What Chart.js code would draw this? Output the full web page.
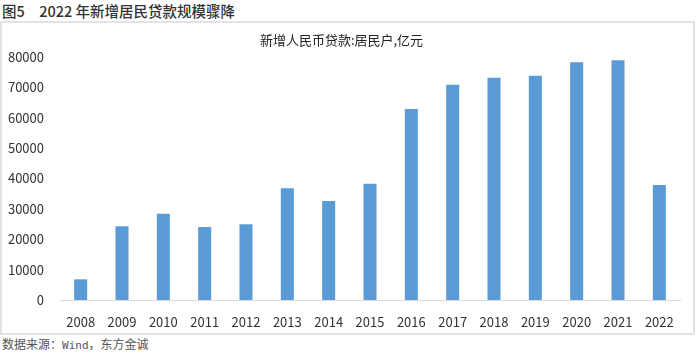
<!DOCTYPE html>
<html><head><meta charset="utf-8">
<script src="https://cdn.jsdelivr.net/npm/chart.js@4"></script>
<style>
html,body{margin:0;padding:0;background:#fff;width:700px;height:355px;overflow:hidden;font-family:"Noto Sans CJK SC",sans-serif;}
#title{position:absolute;left:2px;top:1px;font-size:14.5px;font-weight:500;color:#333;white-space:pre;line-height:20px;}
#frame{position:absolute;left:0px;top:21px;width:691px;height:310px;border:2px solid #e3e3e3;}
#wrap{position:absolute;left:3px;top:23px;width:689px;height:309px;}
#foot{position:absolute;left:2px;top:335px;font-size:12px;color:#555;line-height:18px;white-space:pre;}
#foot .m{font-family:"DejaVu Sans Mono",monospace;font-size:11px;}
</style></head>
<body>
<div id="title">图5　2022 年新增居民贷款规模骤降</div>
<div id="frame"></div>
<div id="wrap"><canvas id="c" width="689" height="309"></canvas></div>
<div id="foot">数据来源：<span class="m">Wind</span>，东方金诚</div>
<script>
const categories = ["2008","2009","2010","2011","2012","2013","2014","2015","2016","2017","2018","2019","2020","2021","2022"];
const loans = [6800,24300,28400,24000,24900,36800,32600,38300,62900,70900,73200,73800,78300,78900,37900];
const chartTitle = "新增人民币贷款:居民户,亿元";
const yMin = 0, yMax = 80000, yStep = 10000;

new Chart(document.getElementById('c'), {
  type: 'bar',
  data: {
    labels: categories,
    datasets: [{
      data: loans,
      backgroundColor: '#5b9bd5',
      borderWidth: 0,
      categoryPercentage: 1,
      barPercentage: 0.315
    }]
  },
  options: {
    responsive: false,
    animation: false,
    devicePixelRatio: 1,
    layout: {padding: {left: 0, right: 12, top: 0, bottom: 0}},
    plugins: {
      legend: {display: false},
      tooltip: {enabled: false},
      title: {
        display: true,
        text: chartTitle,
        color: '#222',
        font: {family: '"Noto Sans CJK SC"', size: 13, weight: 'normal', lineHeight: 1.2},
        padding: {top: 9, bottom: 9.4}
      }
    },
    scales: {
      x: {
        grid: {display: false},
        border: {display: true, color: '#d9d9d9', width: 1},
        ticks: {color: '#333', font: {family: '"Noto Sans CJK SC"', size: 13}, padding: 6, maxRotation: 0, autoSkip: false},
        afterFit: (s) => { s.height = 32; }
      },
      y: {
        min: yMin, max: yMax,
        grid: {display: false},
        border: {display: false},
        ticks: {stepSize: yStep, color: '#333', font: {family: '"Noto Sans CJK SC"', size: 13}, padding: 8,
                callback: (v) => String(v)},
        afterFit: (s) => { s.width = 57; }
      }
    }
  }
});
</script>
</body></html>
